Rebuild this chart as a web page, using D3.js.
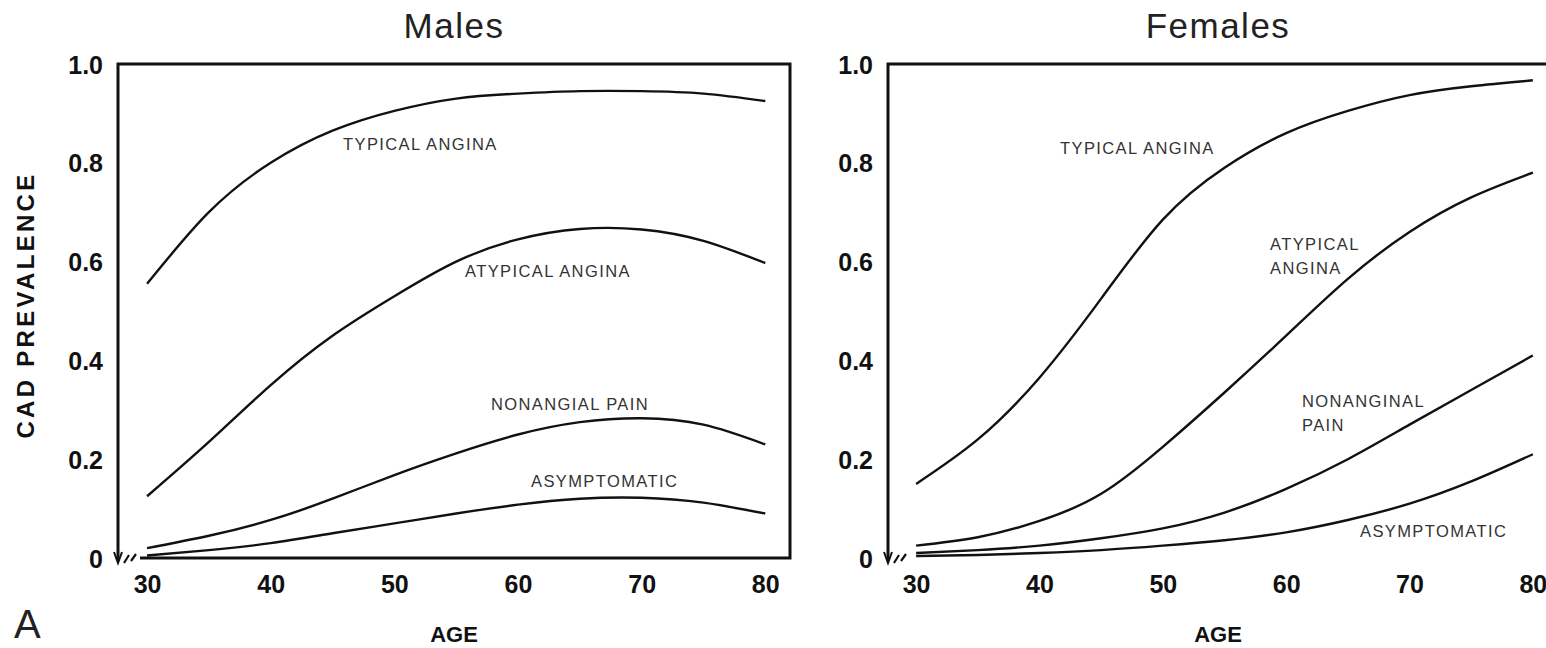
<!DOCTYPE html>
<html>
<head>
<meta charset="utf-8">
<script src="https://cdn.jsdelivr.net/npm/d3@7"></script>
<style>
  body { margin: 0; background: #fff; }
  svg { display: block; font-family: "Liberation Sans", Arial, sans-serif; }
  .frame { fill: none; stroke: #111; stroke-width: 3; }
  .curve { fill: none; stroke: #111; stroke-width: 2.4; }
  .tick-label { font-weight: bold; font-size: 25px; fill: #111; }
  .curve-label { font-size: 16.5px; letter-spacing: 1.4px; fill: #333; }
  .title { font-size: 35px; letter-spacing: 1.5px; fill: #222; }
  .axis-title { font-weight: bold; font-size: 22px; fill: #111; }
</style>
</head>
<body>
<svg id="chart"></svg>
<script>
/* DATA */
var ages = [30, 35, 40, 45, 50, 55, 60, 65, 70, 75, 80];
var xTicks = [30, 40, 50, 60, 70, 80];
var yTicks = [0, 0.2, 0.4, 0.6, 0.8, 1.0];
var yTickLabels = ["0", "0.2", "0.4", "0.6", "0.8", "1.0"];

var maleTypical    = [0.555, 0.70, 0.80, 0.865, 0.905, 0.93, 0.94, 0.945, 0.945, 0.94, 0.925];
var maleAtypical   = [0.125, 0.235, 0.35, 0.45, 0.53, 0.60, 0.645, 0.666, 0.665, 0.642, 0.597];
var maleNonanginal = [0.02, 0.045, 0.077, 0.12, 0.168, 0.212, 0.25, 0.275, 0.283, 0.27, 0.23];
var maleAsympt     = [0.005, 0.016, 0.03, 0.05, 0.07, 0.09, 0.108, 0.12, 0.122, 0.112, 0.09];

var femaleTypical    = [0.15, 0.24, 0.365, 0.525, 0.685, 0.79, 0.86, 0.905, 0.937, 0.955, 0.967];
var femaleAtypical   = [0.025, 0.042, 0.075, 0.13, 0.225, 0.335, 0.45, 0.565, 0.66, 0.73, 0.78];
var femaleNonanginal = [0.01, 0.016, 0.025, 0.04, 0.06, 0.092, 0.14, 0.2, 0.27, 0.34, 0.41];
var femaleAsympt     = [0.004, 0.006, 0.01, 0.016, 0.025, 0.036, 0.052, 0.077, 0.11, 0.155, 0.21];

/* SETUP */
var width = 1546;
var height = 648;

var svg = d3.select("#chart")
  .attr("width", width)
  .attr("height", height);

var panels = [
  {
    title: "Males", left: 118, right: 790, top: 64, bottom: 558,
    domain: [27.65, 82.0], closed: true,
    series: [maleTypical, maleAtypical, maleNonanginal, maleAsympt],
    labels: [
      { lines: ["TYPICAL ANGINA"], x: 343, y: 150 },
      { lines: ["ATYPICAL ANGINA"], x: 465, y: 277 },
      { lines: ["NONANGIAL PAIN"], x: 491, y: 410 },
      { lines: ["ASYMPTOMATIC"], x: 531, y: 487 }
    ]
  },
  {
    title: "Females", left: 888, right: 1560, top: 64, bottom: 558,
    domain: [27.72, 82.2], closed: false,
    series: [femaleTypical, femaleAtypical, femaleNonanginal, femaleAsympt],
    labels: [
      { lines: ["TYPICAL ANGINA"], x: 1060, y: 154 },
      { lines: ["ATYPICAL", "ANGINA"], x: 1270, y: 250 },
      { lines: ["NONANGINAL", "PAIN"], x: 1302, y: 407 },
      { lines: ["ASYMPTOMATIC"], x: 1360, y: 537 }
    ]
  }
];

panels.forEach(drawPanel);

// y axis title
svg.append("text")
  .attr("class", "axis-title")
  .attr("transform", "translate(34,305) rotate(-90)")
  .attr("text-anchor", "middle")
  .style("font-size", "24px")
  .style("letter-spacing", "3.3px")
  .text("CAD PREVALENCE");

// panel letter
svg.append("text")
  .attr("x", 14)
  .attr("y", 638)
  .style("font-size", "40px")
  .style("fill", "#222")
  .text("A");

/* DRAW ONE PANEL */
function drawPanel(p) {
  var x = d3.scaleLinear().domain(p.domain).range([p.left, p.right]);
  var y = d3.scaleLinear().domain([0, 1]).range([p.bottom, p.top]);
  var g = svg.append("g");

  // frame: left, top, bottom (+ right for males)
  var framePath = "M" + p.left + "," + (p.bottom + 2) + "V" + p.top + "H" + p.right;
  if (p.closed) framePath += "V" + p.bottom;
  framePath += "H" + (p.left + 22);
  g.append("path").attr("class", "frame").attr("d", framePath);

  // axis break mark near origin
  g.append("path")
    .attr("d", "M" + (p.left + 6) + "," + (p.bottom + 5) + "L" + (p.left + 11) + "," + (p.bottom - 3) +
               "M" + (p.left + 13) + "," + (p.bottom + 3) + "L" + (p.left + 18) + "," + (p.bottom - 4))
    .attr("fill", "none")
    .attr("stroke", "#111")
    .attr("stroke-width", 2.2);
  g.append("path")
    .attr("d", "M" + (p.left - 4) + "," + (p.bottom - 6) + "L" + p.left + "," + (p.bottom + 5) +
               "L" + (p.left + 4) + "," + (p.bottom - 6))
    .attr("fill", "none")
    .attr("stroke", "#111")
    .attr("stroke-width", 2);

  // y tick labels
  var yAxis = d3.axisLeft(y)
    .tickValues(yTicks)
    .tickSize(0)
    .tickPadding(15)
    .tickFormat((d, i) => yTickLabels[i]);
  var ya = g.append("g")
    .attr("transform", "translate(" + p.left + ",0)")
    .call(yAxis);
  ya.select(".domain").remove();
  ya.selectAll("text").attr("class", "tick-label").attr("font-family", null).attr("font-size", null).attr("dy", "0.36em");

  // x tick labels
  var xAxis = d3.axisBottom(x)
    .tickValues(xTicks)
    .tickSize(0)
    .tickPadding(17);
  var xa = g.append("g")
    .attr("transform", "translate(0," + p.bottom + ")")
    .call(xAxis);
  xa.select(".domain").remove();
  xa.selectAll("text").attr("class", "tick-label").attr("font-family", null).attr("font-size", null);

  // curves
  var line = d3.line()
    .x((d, i) => x(ages[i]))
    .y(d => y(d))
    .curve(d3.curveNatural);
  g.selectAll("path.curve")
    .data(p.series)
    .enter()
    .append("path")
    .attr("class", "curve")
    .attr("d", line);

  // curve labels
  p.labels.forEach(function(l) {
    var t = g.append("text")
      .attr("class", "curve-label")
      .attr("x", l.x)
      .attr("y", l.y);
    l.lines.forEach(function(s, i) {
      t.append("tspan").attr("x", l.x).attr("dy", i === 0 ? 0 : 24).text(s);
    });
  });

  // panel title and x axis title
  var mid = (p.left + (p.closed ? p.right : 1548)) / 2;
  g.append("text")
    .attr("class", "title")
    .attr("x", mid)
    .attr("y", 38)
    .attr("text-anchor", "middle")
    .text(p.title);
  g.append("text")
    .attr("class", "axis-title")
    .attr("x", mid)
    .attr("y", 642)
    .attr("text-anchor", "middle")
    .text("AGE");
}
</script>
</body>
</html>
